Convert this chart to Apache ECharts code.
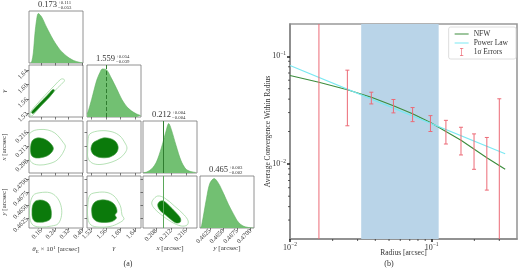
<!DOCTYPE html>
<html>
<head>
<meta charset="utf-8">
<script src="https://cdn.jsdelivr.net/npm/echarts@6/dist/echarts.min.js"></script>
<style>
html,body{margin:0;padding:0;background:#fff}
#main{width:520px;height:270px}
</style>
</head>
<body>
<div id="main"></div>
<script>
// ---- corner plot data ----
var thetaTicks = [0.16, 0.24, 0.32, 0.40];
var gammaTicks = [1.52, 1.56, 1.60, 1.64];
var xTicks = [0.208, 0.212, 0.216];
var yTicks = [0.4625, 0.4650, 0.4675, 0.4700];

var titleMain = ['0.173', '1.559', '0.212', '0.465'];
var titlePlus = ['+0.111', '+0.054', '+0.004', '+0.003'];
var titleMinus = ['\u22120.053', '\u22120.039', '\u22120.004', '\u22120.002'];

// marginal histograms (normalised heights)
var thetaHistX = [0.1000, 0.1074, 0.1166, 0.1263, 0.1360, 0.1454, 0.1646, 0.1930, 0.2309, 0.2691, 0.3074, 0.3451, 0.3834, 0.4000];
var thetaHistY = [0, 0.02, 0.20, 0.60, 0.88, 1.00, 0.93, 0.72, 0.47, 0.27, 0.14, 0.055, 0.012, 0.005];
var gammaHistX = [1.5095, 1.5125, 1.5217, 1.5352, 1.5441, 1.5504, 1.5622, 1.5758, 1.5893, 1.6028, 1.6163, 1.6298, 1.6433, 1.6540];
var gammaHistY = [0.06, 0.12, 0.36, 0.74, 0.90, 0.97, 0.95, 0.77, 0.57, 0.36, 0.21, 0.12, 0.06, 0.03];
var xHistX = [0.2046, 0.2055, 0.2068, 0.2081, 0.2094, 0.2107, 0.2114, 0.2121, 0.2134, 0.2147, 0.2160, 0.2173, 0.2187];
var xHistY = [0.005, 0.02, 0.08, 0.22, 0.50, 0.85, 1.00, 0.88, 0.55, 0.25, 0.08, 0.03, 0.01];
var yHistX = [0.4608, 0.4610, 0.4619, 0.4625, 0.4633, 0.4641, 0.4650, 0.4659, 0.4668, 0.4677, 0.4686, 0.4696, 0.4705];
var yHistY = [0.0, 0.05, 0.60, 0.90, 1.00, 0.90, 0.70, 0.48, 0.29, 0.12, 0.04, 0.01, 0.0];

var gammaMedian = 1.559;
var xTruth = 0.2114;
var yTruth = 0.4635;

// 2D contours [param_col, param_row]
var thetaGammaInner = [[0.1063,1.5214],[0.1149,1.5283],[0.1434,1.5434],[0.1777,1.5600],[0.2120,1.5779],[0.2291,1.5861],[0.2377,1.5848],[0.2291,1.5765],[0.1949,1.5572],[0.1606,1.5407],[0.1320,1.5255],[0.1149,1.5186]];
var thetaGammaOuter = [[0.0977,1.5131],[0.1006,1.5228],[0.1320,1.5421],[0.1834,1.5696],[0.2406,1.5985],[0.2749,1.6151],[0.2920,1.6151],[0.2949,1.6096],[0.2577,1.5916],[0.2006,1.5613],[0.1491,1.5338],[0.1206,1.5173],[0.1063,1.5118]];
var thetaXInner = [[0.1034,0.21259],[0.1149,0.21370],[0.1377,0.21426],[0.1720,0.21412],[0.2006,0.21342],[0.2234,0.21231],[0.2320,0.21133],[0.2234,0.21036],[0.2006,0.20938],[0.1663,0.20882],[0.1320,0.20868],[0.1091,0.20924],[0.1006,0.21063]];
var thetaXOuter = [[0.0920,0.21510],[0.1149,0.21621],[0.1549,0.21663],[0.2006,0.21649],[0.2406,0.21565],[0.2691,0.21426],[0.2863,0.21314],[0.3006,0.21203],[0.2920,0.21063],[0.2749,0.20924],[0.2463,0.20785],[0.2006,0.20701],[0.1549,0.20673],[0.1149,0.20715],[0.0949,0.20840],[0.0920,0.21091]];
var gammaXInner = [[1.5198,0.21147],[1.5252,0.21287],[1.5360,0.21356],[1.5522,0.21426],[1.5712,0.21412],[1.5847,0.21342],[1.5928,0.21203],[1.5914,0.21063],[1.5820,0.20952],[1.5658,0.20882],[1.5441,0.20882],[1.5279,0.20952],[1.5212,0.21050]];
var gammaXOuter = [[1.5171,0.21543],[1.5441,0.21627],[1.5766,0.21599],[1.5982,0.21482],[1.6117,0.21287],[1.6171,0.21147],[1.6117,0.21008],[1.5982,0.20868],[1.5766,0.20757],[1.5441,0.20687],[1.5225,0.20729],[1.5117,0.20868],[1.5109,0.21091],[1.5117,0.21370]];
var thetaYInner = [[0.1120,0.46489],[0.1263,0.46574],[0.1549,0.46603],[0.1834,0.46584],[0.2063,0.46527],[0.2177,0.46432],[0.2206,0.46337],[0.2149,0.46241],[0.1891,0.46194],[0.1549,0.46179],[0.1263,0.46194],[0.1120,0.46260],[0.1091,0.46375]];
var thetaYOuter = [[0.1166,0.46693],[0.1549,0.46742],[0.2120,0.46742],[0.2503,0.46660],[0.2749,0.46502],[0.2789,0.46312],[0.2594,0.46152],[0.2217,0.46108],[0.1646,0.46089],[0.1166,0.46121],[0.0977,0.46247],[0.0977,0.46502]];
var gammaYInner = [[1.5225,0.46470],[1.5306,0.46565],[1.5468,0.46603],[1.5658,0.46594],[1.5793,0.46546],[1.5874,0.46470],[1.5901,0.46375],[1.5847,0.46317],[1.5887,0.46260],[1.5766,0.46194],[1.5549,0.46175],[1.5360,0.46194],[1.5252,0.46260],[1.5217,0.46375]];
var gammaYOuter = [[1.5171,0.46698],[1.5360,0.46746],[1.5631,0.46746],[1.5820,0.46679],[1.5955,0.46546],[1.6009,0.46451],[1.6036,0.46317],[1.6090,0.46241],[1.5955,0.46165],[1.5712,0.46099],[1.5387,0.46089],[1.5198,0.46127],[1.5117,0.46241],[1.5112,0.46508]];
var xYInner = [[0.20845,0.46508],[0.20898,0.46574],[0.21004,0.46584],[0.21162,0.46489],[0.21320,0.46375],[0.21452,0.46260],[0.21452,0.46184],[0.21346,0.46165],[0.21215,0.46222],[0.21056,0.46317],[0.20898,0.46413]];
var xYOuter = [[0.20714,0.46603],[0.20845,0.46679],[0.21030,0.46641],[0.21294,0.46489],[0.21557,0.46317],[0.21663,0.46203],[0.21636,0.46127],[0.21478,0.46108],[0.21215,0.46184],[0.20951,0.46317],[0.20766,0.46432],[0.20687,0.46527]];

// ---- convergence profile data ----
var nfwR = [0.01, 0.016, 0.0254, 0.0375, 0.0537, 0.0733, 0.098, 0.126, 0.161, 0.245, 0.33];
var nfwK = [0.0664, 0.0575, 0.049, 0.0417, 0.0348, 0.0292, 0.0243, 0.0200, 0.0166, 0.0114, 0.0089];
var plR = [0.01, 0.0537, 0.33];
var plK = [0.0824, 0.0330, 0.0124];
var errR = [0.016, 0.0254, 0.0375, 0.0537, 0.0733, 0.098, 0.126, 0.161, 0.199, 0.245, 0.30];
var errLo = [0.001, 0.0226, 0.0361, 0.0298, 0.0247, 0.0200, 0.0153, 0.0121, 0.0089, 0.0057, 0.001];
var errHi = [1.0, 0.0744, 0.0464, 0.0397, 0.0334, 0.0281, 0.0254, 0.0219, 0.0190, 0.0176, 0.0403];
var shadeR = [0.0318, 0.112];
var minorX = [0.02, 0.03, 0.04, 0.05, 0.06, 0.07, 0.08, 0.09, 0.2, 0.3];
var minorY = [0.003, 0.004, 0.005, 0.006, 0.007, 0.008, 0.009, 0.02, 0.03, 0.04, 0.05, 0.06, 0.07, 0.08, 0.09];

var F = 'Liberation Serif, DejaVu Serif, serif';
var txt = '#333';
var myChart = echarts.init(document.getElementById('main'));

// corner layout
var colLeft = [29, 87, 143, 200];
var rowTop = [11, 65, 121, 176];
var pw = 54, ph = 52;
var paramTicks = [thetaTicks, gammaTicks, xTicks, yTicks];
var paramDigits = [2, 2, 3, 4];
var paramRange = [[0.092, 0.402], [1.509, 1.655], [0.2045, 0.219], [0.4607, 0.4706]];
var paramName = ['{i|\u03b8}{sub|E} \u00d7 10{sup|1} [arcsec]', '{i|\u03b3}', '{i|x} [arcsec]', '{i|y} [arcsec]'];
var nameRich = {
	i: { fontFamily: F, fontStyle: 'italic', fontSize: 7, color: txt },
	sub: { fontFamily: F, fontSize: 5, color: txt, padding: [4, 0, 0, 0] },
	sup: { fontFamily: F, fontSize: 5, color: txt, padding: [0, 0, 4, 0] }
};

var grids = [], xAxes = [], yAxes = [], series = [], graphics = [];
var gIdx = {};

function axisLab(show, p) {
	return {
		show: show, customValues: paramTicks[p], rotate: 45, fontSize: 6.5, fontFamily: F,
		color: txt, margin: 2,
		formatter: function(v) { return (+v).toFixed(paramDigits[p]); }
	};
}

for (var r = 0; r < 4; r++) {
	for (var c = 0; c <= r; c++) {
		var g = grids.length;
		gIdx[r + '_' + c] = g;
		grids.push({ left: colLeft[c], top: rowTop[r], width: pw, height: ph, show: true, borderColor: '#777', borderWidth: 0.8 });
		xAxes.push({
			gridIndex: g, type: 'value', min: paramRange[c][0], max: paramRange[c][1],
			axisLine: { show: false }, splitLine: { show: false },
			axisTick: { show: true, customValues: paramTicks[c], length: 2.5, lineStyle: { color: '#444', width: 0.7 } },
			axisLabel: axisLab(r == 3, c),
			name: r == 3 ? paramName[c] : '', nameLocation: 'middle', nameGap: 17, nameMoveOverlap: false,
			nameTextStyle: { fontFamily: F, fontSize: 7, color: txt, rich: nameRich }
		});
		if (r == c) {
			yAxes.push({ gridIndex: g, type: 'value', min: 0, max: 1.05, axisLine: { show: false }, axisTick: { show: false }, axisLabel: { show: false }, splitLine: { show: false } });
		} else {
			yAxes.push({
				gridIndex: g, type: 'value', min: paramRange[r][0], max: paramRange[r][1],
				axisLine: { show: false }, splitLine: { show: false },
				axisTick: { show: true, customValues: paramTicks[r], length: 2.5, lineStyle: { color: '#444', width: 0.7 } },
				axisLabel: axisLab(c == 0, r),
				name: c == 0 ? paramName[r] : '', nameLocation: 'middle', nameGap: 21, nameMoveOverlap: false,
				nameTextStyle: { fontFamily: F, fontSize: 7, color: txt, rich: nameRich }
			});
		}
	}
}

//对角直方图
var hists = [[thetaHistX, thetaHistY], [gammaHistX, gammaHistY], [xHistX, xHistY], [yHistX, yHistY]];
var diagLines = [null, { v: gammaMedian, type: 'dashed' }, { v: xTruth, type: 'solid' }, { v: yTruth, type: 'solid' }];
hists.forEach(function(h, i) {
	var g = gIdx[i + '_' + i];
	var s = {
		type: 'line', xAxisIndex: g, yAxisIndex: g, silent: true, smooth: 0.3, symbol: 'none',
		data: h[0].map(function(x, k) { return [x, h[1][k]]; }),
		lineStyle: { color: '#5fae5f', width: 0.6 },
		areaStyle: { color: '#72c072', opacity: 1 }
	};
	if (diagLines[i]) {
		s.markLine = {
			silent: true, symbol: 'none', label: { show: false },
			lineStyle: { color: '#2f7d2f', width: 1, type: diagLines[i].type },
			data: [{ xAxis: diagLines[i].v }]
		};
	}
	series.push(s);
	// titles above diagonal panels
	var cx = colLeft[i] + pw / 2 + 1, ty = rowTop[i] - 6;
	graphics.push({ type: 'text', x: cx, y: ty, style: { text: titleMain[i], fontFamily: F, fontSize: 8.5, fill: txt, align: 'right', verticalAlign: 'middle' } });
	graphics.push({ type: 'text', x: cx + 1, y: ty - 2.5, style: { text: titlePlus[i], fontFamily: F, fontSize: 4.8, fill: txt, align: 'left', verticalAlign: 'middle' } });
	graphics.push({ type: 'text', x: cx + 1, y: ty + 2.8, style: { text: titleMinus[i], fontFamily: F, fontSize: 4.8, fill: txt, align: 'left', verticalAlign: 'middle' } });
});

//二维等高线
function polySeries(g, pts, fill, stroke, width) {
	return {
		type: 'custom', xAxisIndex: g, yAxisIndex: g, silent: true, clip: true,
		data: pts,
		renderItem: function(params, api) {
			if (params.dataIndexInside !== 0) return;
			return {
				type: 'polygon',
				shape: { points: pts.map(function(p) { return api.coord(p); }), smooth: 0.35 },
				style: { fill: fill, stroke: stroke, lineWidth: width }
			};
		}
	};
}
var contours = [
	['1_0', thetaGammaInner, thetaGammaOuter],
	['2_0', thetaXInner, thetaXOuter],
	['2_1', gammaXInner, gammaXOuter],
	['3_0', thetaYInner, thetaYOuter],
	['3_1', gammaYInner, gammaYOuter],
	['3_2', xYInner, xYOuter]
];
contours.forEach(function(ct) {
	var g = gIdx[ct[0]];
	var outer = polySeries(g, ct[2], 'none', '#a3d9a3', 0.8);
	if (ct[0] == '3_2') {
		outer.markLine = {
			silent: true, symbol: 'none', label: { show: false },
			lineStyle: { color: '#5aa85a', width: 1, type: 'solid' },
			data: [{ xAxis: xTruth }, { yAxis: yTruth }]
		};
	}
	series.push(outer);
	series.push(polySeries(g, ct[1], '#0b7a0b', '#3f9a3f', 0.6));
});

// ---- right panel ----
var gR = grids.length;
grids.push({ left: 290, top: 24, width: 227, height: 215, show: true, borderColor: '#999', borderWidth: 1.6 });
var logFmt = function(v) {
	var e = Math.round(Math.log(v) / Math.LN10);
	return '{b|10}{s|' + (e < 0 ? '\u2212' : '') + Math.abs(e) + '}';
};
var logRich = {
	b: { fontFamily: F, fontSize: 8, color: txt },
	s: { fontFamily: F, fontSize: 5.5, color: txt, padding: [0, 0, 5, 0] }
};
xAxes.push({
	gridIndex: gR, type: 'log', logBase: 10, min: 0.01, max: 0.4,
	axisLine: { show: true, lineStyle: { color: '#888', width: 1.6 } },
	axisTick: { show: true, customValues: [0.01, 0.1], length: 3, lineStyle: { color: '#222', width: 1.5 } },
	axisLabel: { customValues: [0.01, 0.1], formatter: logFmt, rich: logRich, margin: 3 },
	splitLine: { show: false },
	name: 'Radius [arcsec]', nameLocation: 'middle', nameGap: 10, nameMoveOverlap: false,
	nameTextStyle: { fontFamily: F, fontSize: 7.5, color: txt }
});
yAxes.push({
	gridIndex: gR, type: 'log', logBase: 10, min: 0.002, max: 0.2,
	axisLine: { show: true, lineStyle: { color: '#888', width: 1.6 } },
	axisTick: { show: true, customValues: [0.01, 0.1], length: 3, lineStyle: { color: '#222', width: 1.5 } },
	axisLabel: { customValues: [0.01, 0.1], formatter: logFmt, rich: logRich, margin: 4 },
	splitLine: { show: false },
	name: 'Average Convergence Within Radius', nameLocation: 'middle', nameGap: 18, nameMoveOverlap: false,
	nameTextStyle: { fontFamily: F, fontSize: 7.5, color: txt }
});

// shaded fit range
series.push({
	type: 'line', xAxisIndex: gR, yAxisIndex: gR, data: [], z: 1, silent: true,
	markArea: { silent: true, itemStyle: { color: '#b9d4e8' }, data: [[{ xAxis: shadeR[0] }, { xAxis: shadeR[1] }]] }
});
// minor ticks
series.push({
	type: 'custom', xAxisIndex: gR, yAxisIndex: gR, silent: true, z: 6,
	data: minorX.map(function(v) { return [v, 0.01]; }),
	renderItem: function(params, api) {
		var cs = params.coordSys, x = api.coord([api.value(0), api.value(1)])[0];
		return { type: 'line', shape: { x1: x, y1: cs.y + cs.height, x2: x, y2: cs.y + cs.height + 2 }, style: { stroke: '#333', lineWidth: 0.8 } };
	}
});
series.push({
	type: 'custom', xAxisIndex: gR, yAxisIndex: gR, silent: true, z: 6,
	data: minorY.map(function(v) { return [0.01, v]; }),
	renderItem: function(params, api) {
		var cs = params.coordSys, y = api.coord([api.value(0), api.value(1)])[1];
		return { type: 'line', shape: { x1: cs.x, y1: y, x2: cs.x - 2, y2: y }, style: { stroke: '#333', lineWidth: 0.8 } };
	}
});
series.push({
	name: 'NFW', type: 'line', xAxisIndex: gR, yAxisIndex: gR, symbol: 'none', z: 3,
	data: nfwR.map(function(x, i) { return [x, nfwK[i]]; }),
	lineStyle: { color: '#3c8c3c', width: 1.1 }, itemStyle: { color: '#3c8c3c' }
});
series.push({
	name: 'Power Law', type: 'line', xAxisIndex: gR, yAxisIndex: gR, symbol: 'none', z: 3,
	data: plR.map(function(x, i) { return [x, plK[i]]; }),
	lineStyle: { color: '#7ae8f2', width: 1.1 }, itemStyle: { color: '#7ae8f2' }
});
series.push({
	name: '1\u03c3 Errors', type: 'custom', xAxisIndex: gR, yAxisIndex: gR, clip: true, z: 4,
	itemStyle: { color: '#ec6a76' },
	encode: { x: 0, y: [1, 2] },
	data: errR.map(function(x, i) { return [x, errLo[i], errHi[i]]; }),
	renderItem: function(params, api) {
		var top = api.coord([api.value(0), api.value(2)]);
		var bot = api.coord([api.value(0), api.value(1)]);
		var st = { stroke: '#ec6a76', lineWidth: 1 };
		return {
			type: 'group',
			children: [
				{ type: 'line', shape: { x1: top[0], y1: top[1], x2: bot[0], y2: bot[1] }, style: st },
				{ type: 'line', shape: { x1: top[0] - 2, y1: top[1], x2: top[0] + 2, y2: top[1] }, style: st },
				{ type: 'line', shape: { x1: bot[0] - 2, y1: bot[1], x2: bot[0] + 2, y2: bot[1] }, style: st }
			]
		};
	}
});

graphics.push({ type: 'text', x: 128, y: 264, style: { text: '(a)', fontFamily: F, fontSize: 8, fill: txt, align: 'center', verticalAlign: 'middle' } });
graphics.push({ type: 'text', x: 389, y: 264, style: { text: '(b)', fontFamily: F, fontSize: 8, fill: txt, align: 'center', verticalAlign: 'middle' } });

var option = {
	animation: false,
	backgroundColor: '#fff',
	grid: grids,
	xAxis: xAxes,
	yAxis: yAxes,
	legend: {
		orient: 'vertical', right: 4, top: 27,
		itemWidth: 14, itemHeight: 8, itemGap: 1,
		padding: [3, 8, 3, 6],
		borderColor: '#d5d5d5', borderWidth: 0.8, borderRadius: 2, backgroundColor: '#fff',
		textStyle: { fontFamily: F, fontSize: 7.5, color: txt },
		data: [
			{ name: 'NFW', icon: 'path://M0,0H14V1H0Z' },
			{ name: 'Power Law', icon: 'path://M0,0H14V1H0Z' },
			{ name: '1\u03c3 Errors', icon: 'path://M0,0H5V1H3V11H5V12H0V11H2V1H0Z' }
		]
	},
	graphic: graphics,
	series: series
};
myChart.setOption(option);
</script>
</body>
</html>
